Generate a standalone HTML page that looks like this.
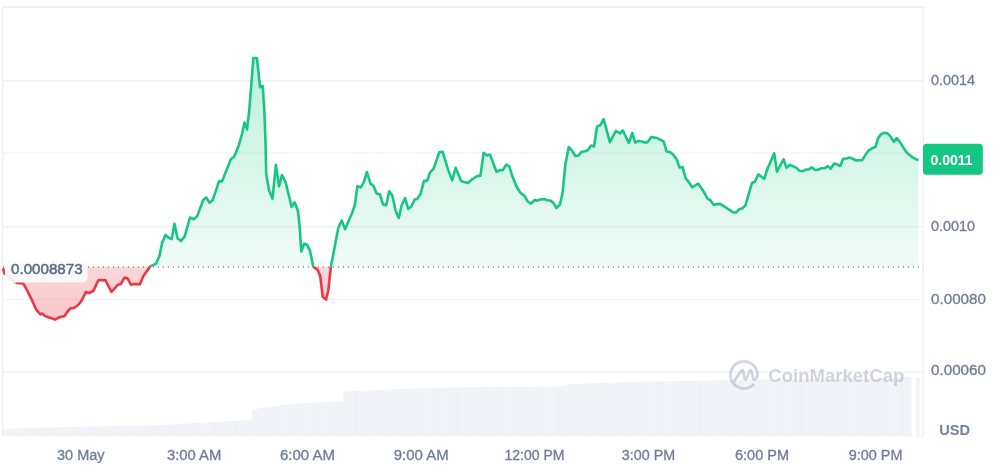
<!DOCTYPE html>
<html><head><meta charset="utf-8"><title>Chart</title>
<style>
html,body{margin:0;padding:0;background:#fff;}
body{width:1001px;height:466px;overflow:hidden;font-family:"Liberation Sans",sans-serif;}
svg{display:block;position:absolute;left:0;top:0;will-change:transform;}
text{font-family:"Liberation Sans",sans-serif;}
</style></head><body>
<svg width="1001" height="466" viewBox="0 0 1001 466">
<defs>
<linearGradient id="gg" x1="0" y1="40" x2="0" y2="266.8" gradientUnits="userSpaceOnUse">
<stop offset="0" stop-color="#16c784" stop-opacity="0.30"/>
<stop offset="1" stop-color="#16c784" stop-opacity="0.06"/>
</linearGradient>
<linearGradient id="rg" x1="0" y1="266.8" x2="0" y2="330" gradientUnits="userSpaceOnUse">
<stop offset="0" stop-color="#ea3943" stop-opacity="0.20"/>
<stop offset="1" stop-color="#ea3943" stop-opacity="0.30"/>
</linearGradient>
<clipPath id="up"><rect x="0" y="0" width="1001" height="266.8"/></clipPath>
<clipPath id="dn"><rect x="0" y="266.8" width="1001" height="200"/></clipPath>
</defs>
<rect width="1001" height="466" fill="#fff"/>
<!-- grid -->
<g shape-rendering="crispEdges">
<rect x="3" y="80" width="920" height="1" fill="#f2f2f2"/><rect x="3" y="81" width="920" height="1" fill="#f8f8f8"/>
<rect x="3" y="152" width="920" height="1" fill="#f7f8fa"/><line x1="3" x2="923" y1="153.5" y2="153.5" stroke="#eff1f5" stroke-width="1" stroke-dasharray="1 1"/>
<rect x="3" y="226" width="920" height="1" fill="#f3f3f3"/><rect x="3" y="227" width="920" height="1" fill="#f8f8f7"/>
<rect x="3" y="298.5" width="920" height="1.5" fill="#f3f3f3"/>
<rect x="3" y="371" width="920" height="1" fill="#f3f3f3"/><line x1="3" x2="923" y1="372.5" y2="372.5" stroke="#f5f5f5" stroke-width="1" stroke-dasharray="1 1"/>
</g>
<!-- volume -->
<g fill="#f0f2f7">
<rect x="2.60" y="428.8" width="3.03" height="6.8"/><rect x="5.76" y="428.7" width="3.03" height="6.9"/><rect x="8.91" y="428.6" width="3.03" height="7.0"/><rect x="12.07" y="428.5" width="3.03" height="7.1"/><rect x="15.22" y="428.4" width="3.03" height="7.2"/><rect x="18.38" y="428.3" width="3.03" height="7.3"/><rect x="21.54" y="428.1" width="3.03" height="7.5"/><rect x="24.69" y="428.0" width="3.03" height="7.6"/><rect x="27.85" y="427.9" width="3.03" height="7.7"/><rect x="31.00" y="427.8" width="3.03" height="7.8"/><rect x="34.16" y="427.7" width="3.03" height="7.9"/><rect x="37.32" y="427.6" width="3.03" height="8.0"/><rect x="40.47" y="427.6" width="3.03" height="8.0"/><rect x="43.63" y="427.5" width="3.03" height="8.1"/><rect x="46.78" y="427.4" width="3.03" height="8.2"/><rect x="49.94" y="427.4" width="3.03" height="8.2"/><rect x="53.10" y="427.3" width="3.03" height="8.3"/><rect x="56.25" y="427.2" width="3.03" height="8.4"/><rect x="59.41" y="427.1" width="3.03" height="8.5"/><rect x="62.56" y="427.1" width="3.03" height="8.5"/><rect x="65.72" y="427.0" width="3.03" height="8.6"/><rect x="68.88" y="426.9" width="3.03" height="8.7"/><rect x="72.03" y="426.9" width="3.03" height="8.7"/><rect x="75.19" y="426.8" width="3.03" height="8.8"/><rect x="78.34" y="426.7" width="3.03" height="8.9"/><rect x="81.50" y="426.7" width="3.03" height="8.9"/><rect x="84.66" y="426.6" width="3.03" height="9.0"/><rect x="87.81" y="426.5" width="3.03" height="9.1"/><rect x="90.97" y="426.5" width="3.03" height="9.1"/><rect x="94.12" y="426.4" width="3.03" height="9.2"/><rect x="97.28" y="426.3" width="3.03" height="9.3"/><rect x="100.44" y="426.3" width="3.03" height="9.3"/><rect x="103.59" y="426.2" width="3.03" height="9.4"/><rect x="106.75" y="426.1" width="3.03" height="9.5"/><rect x="109.90" y="426.1" width="3.03" height="9.5"/><rect x="113.06" y="426.0" width="3.03" height="9.6"/><rect x="116.22" y="426.0" width="3.03" height="9.6"/><rect x="119.37" y="425.9" width="3.03" height="9.7"/><rect x="122.53" y="425.9" width="3.03" height="9.7"/><rect x="125.68" y="425.8" width="3.03" height="9.8"/><rect x="128.84" y="425.7" width="3.03" height="9.9"/><rect x="132.00" y="425.7" width="3.03" height="9.9"/><rect x="135.15" y="425.6" width="3.03" height="10.0"/><rect x="138.31" y="425.6" width="3.03" height="10.0"/><rect x="141.46" y="425.5" width="3.03" height="10.1"/><rect x="144.62" y="425.5" width="3.03" height="10.1"/><rect x="147.78" y="425.4" width="3.03" height="10.2"/><rect x="150.93" y="425.3" width="3.03" height="10.3"/><rect x="154.09" y="425.3" width="3.03" height="10.3"/><rect x="157.24" y="425.2" width="3.03" height="10.4"/><rect x="160.40" y="425.1" width="3.03" height="10.5"/><rect x="163.56" y="424.9" width="3.03" height="10.7"/><rect x="166.71" y="424.7" width="3.03" height="10.9"/><rect x="169.87" y="424.5" width="3.03" height="11.1"/><rect x="173.02" y="424.3" width="3.03" height="11.3"/><rect x="176.18" y="424.1" width="3.03" height="11.5"/><rect x="179.34" y="423.9" width="3.03" height="11.7"/><rect x="182.49" y="423.8" width="3.03" height="11.8"/><rect x="185.65" y="423.6" width="3.03" height="12.0"/><rect x="188.80" y="423.4" width="3.03" height="12.2"/><rect x="191.96" y="423.2" width="3.03" height="12.4"/><rect x="195.12" y="423.0" width="3.03" height="12.6"/><rect x="198.27" y="422.8" width="3.03" height="12.8"/><rect x="201.43" y="422.6" width="3.03" height="13.0"/><rect x="204.58" y="422.5" width="3.03" height="13.1"/><rect x="207.74" y="422.3" width="3.03" height="13.3"/><rect x="210.90" y="422.1" width="3.03" height="13.5"/><rect x="214.05" y="421.9" width="3.03" height="13.7"/><rect x="217.21" y="421.8" width="3.03" height="13.8"/><rect x="220.36" y="421.6" width="3.03" height="14.0"/><rect x="223.52" y="421.4" width="3.03" height="14.2"/><rect x="226.68" y="421.2" width="3.03" height="14.4"/><rect x="229.83" y="421.1" width="3.03" height="14.5"/><rect x="232.99" y="420.9" width="3.03" height="14.7"/><rect x="236.14" y="420.7" width="3.03" height="14.9"/><rect x="239.30" y="420.5" width="3.03" height="15.1"/><rect x="242.46" y="420.4" width="3.03" height="15.2"/><rect x="245.61" y="419.9" width="3.03" height="15.7"/><rect x="248.77" y="419.3" width="3.03" height="16.3"/><rect x="251.92" y="410.1" width="3.03" height="25.5"/><rect x="255.08" y="409.1" width="3.03" height="26.5"/><rect x="258.24" y="408.2" width="3.03" height="27.4"/><rect x="261.39" y="407.4" width="3.03" height="28.2"/><rect x="264.55" y="407.0" width="3.03" height="28.6"/><rect x="267.70" y="406.6" width="3.03" height="29.0"/><rect x="270.86" y="406.2" width="3.03" height="29.4"/><rect x="274.02" y="405.8" width="3.03" height="29.8"/><rect x="277.17" y="405.5" width="3.03" height="30.1"/><rect x="280.33" y="405.1" width="3.03" height="30.5"/><rect x="283.48" y="404.9" width="3.03" height="30.7"/><rect x="286.64" y="404.6" width="3.03" height="31.0"/><rect x="289.80" y="404.3" width="3.03" height="31.3"/><rect x="292.95" y="404.0" width="3.03" height="31.6"/><rect x="296.11" y="403.7" width="3.03" height="31.9"/><rect x="299.26" y="403.5" width="3.03" height="32.1"/><rect x="302.42" y="403.3" width="3.03" height="32.3"/><rect x="305.58" y="403.1" width="3.03" height="32.5"/><rect x="308.73" y="402.9" width="3.03" height="32.7"/><rect x="311.89" y="402.8" width="3.03" height="32.8"/><rect x="315.04" y="402.6" width="3.03" height="33.0"/><rect x="318.20" y="402.4" width="3.03" height="33.2"/><rect x="321.36" y="402.2" width="3.03" height="33.4"/><rect x="324.51" y="402.1" width="3.03" height="33.5"/><rect x="327.67" y="401.9" width="3.03" height="33.7"/><rect x="330.82" y="401.7" width="3.03" height="33.9"/><rect x="333.98" y="401.6" width="3.03" height="34.0"/><rect x="337.14" y="401.4" width="3.03" height="34.2"/><rect x="340.29" y="401.2" width="3.03" height="34.4"/><rect x="343.45" y="391.6" width="3.03" height="44.0"/><rect x="346.60" y="391.5" width="3.03" height="44.1"/><rect x="349.76" y="391.3" width="3.03" height="44.3"/><rect x="352.92" y="391.1" width="3.03" height="44.5"/><rect x="356.07" y="391.0" width="3.03" height="44.6"/><rect x="359.23" y="390.8" width="3.03" height="44.8"/><rect x="362.38" y="390.6" width="3.03" height="45.0"/><rect x="365.54" y="390.5" width="3.03" height="45.1"/><rect x="368.70" y="390.3" width="3.03" height="45.3"/><rect x="371.85" y="390.2" width="3.03" height="45.4"/><rect x="375.01" y="390.0" width="3.03" height="45.6"/><rect x="378.16" y="389.8" width="3.03" height="45.8"/><rect x="381.32" y="389.7" width="3.03" height="45.9"/><rect x="384.48" y="389.5" width="3.03" height="46.1"/><rect x="387.63" y="389.3" width="3.03" height="46.3"/><rect x="390.79" y="389.2" width="3.03" height="46.4"/><rect x="393.94" y="389.1" width="3.03" height="46.5"/><rect x="397.10" y="389.0" width="3.03" height="46.6"/><rect x="400.26" y="388.9" width="3.03" height="46.7"/><rect x="403.41" y="388.8" width="3.03" height="46.8"/><rect x="406.57" y="388.7" width="3.03" height="46.9"/><rect x="409.72" y="388.6" width="3.03" height="47.0"/><rect x="412.88" y="388.5" width="3.03" height="47.1"/><rect x="416.04" y="388.4" width="3.03" height="47.2"/><rect x="419.19" y="388.3" width="3.03" height="47.3"/><rect x="422.35" y="388.2" width="3.03" height="47.4"/><rect x="425.50" y="388.1" width="3.03" height="47.5"/><rect x="428.66" y="388.0" width="3.03" height="47.6"/><rect x="431.82" y="387.9" width="3.03" height="47.7"/><rect x="434.97" y="387.9" width="3.03" height="47.7"/><rect x="438.13" y="387.8" width="3.03" height="47.8"/><rect x="441.28" y="387.7" width="3.03" height="47.9"/><rect x="444.44" y="387.7" width="3.03" height="47.9"/><rect x="447.60" y="387.6" width="3.03" height="48.0"/><rect x="450.75" y="387.6" width="3.03" height="48.0"/><rect x="453.91" y="387.5" width="3.03" height="48.1"/><rect x="457.06" y="387.4" width="3.03" height="48.2"/><rect x="460.22" y="387.4" width="3.03" height="48.2"/><rect x="463.38" y="387.3" width="3.03" height="48.3"/><rect x="466.53" y="387.2" width="3.03" height="48.4"/><rect x="469.69" y="387.2" width="3.03" height="48.4"/><rect x="472.84" y="387.1" width="3.03" height="48.5"/><rect x="476.00" y="387.0" width="3.03" height="48.6"/><rect x="479.16" y="387.0" width="3.03" height="48.6"/><rect x="482.31" y="387.0" width="3.03" height="48.6"/><rect x="485.47" y="387.0" width="3.03" height="48.6"/><rect x="488.62" y="387.0" width="3.03" height="48.6"/><rect x="491.78" y="386.9" width="3.03" height="48.7"/><rect x="494.94" y="386.9" width="3.03" height="48.7"/><rect x="498.09" y="386.9" width="3.03" height="48.7"/><rect x="501.25" y="386.9" width="3.03" height="48.7"/><rect x="504.40" y="386.9" width="3.03" height="48.7"/><rect x="507.56" y="386.9" width="3.03" height="48.7"/><rect x="510.72" y="386.8" width="3.03" height="48.8"/><rect x="513.87" y="386.8" width="3.03" height="48.8"/><rect x="517.03" y="386.8" width="3.03" height="48.8"/><rect x="520.18" y="386.8" width="3.03" height="48.8"/><rect x="523.34" y="386.8" width="3.03" height="48.8"/><rect x="526.50" y="386.8" width="3.03" height="48.8"/><rect x="529.65" y="386.8" width="3.03" height="48.8"/><rect x="532.81" y="386.7" width="3.03" height="48.9"/><rect x="535.96" y="386.7" width="3.03" height="48.9"/><rect x="539.12" y="386.7" width="3.03" height="48.9"/><rect x="542.28" y="386.7" width="3.03" height="48.9"/><rect x="545.43" y="386.7" width="3.03" height="48.9"/><rect x="548.59" y="386.7" width="3.03" height="48.9"/><rect x="551.74" y="386.6" width="3.03" height="49.0"/><rect x="554.90" y="386.6" width="3.03" height="49.0"/><rect x="558.06" y="386.6" width="3.03" height="49.0"/><rect x="561.21" y="386.3" width="3.03" height="49.3"/><rect x="564.37" y="385.1" width="3.03" height="50.5"/><rect x="567.52" y="384.3" width="3.03" height="51.3"/><rect x="570.68" y="384.1" width="3.03" height="51.5"/><rect x="573.84" y="384.0" width="3.03" height="51.6"/><rect x="576.99" y="383.9" width="3.03" height="51.7"/><rect x="580.15" y="383.7" width="3.03" height="51.9"/><rect x="583.30" y="383.6" width="3.03" height="52.0"/><rect x="586.46" y="383.5" width="3.03" height="52.1"/><rect x="589.62" y="383.4" width="3.03" height="52.2"/><rect x="592.77" y="383.2" width="3.03" height="52.4"/><rect x="595.93" y="383.1" width="3.03" height="52.5"/><rect x="599.08" y="383.0" width="3.03" height="52.6"/><rect x="602.24" y="382.9" width="3.03" height="52.7"/><rect x="605.40" y="382.8" width="3.03" height="52.8"/><rect x="608.55" y="382.6" width="3.03" height="53.0"/><rect x="611.71" y="382.5" width="3.03" height="53.1"/><rect x="614.86" y="382.4" width="3.03" height="53.2"/><rect x="618.02" y="382.3" width="3.03" height="53.3"/><rect x="621.18" y="382.2" width="3.03" height="53.4"/><rect x="624.33" y="382.1" width="3.03" height="53.5"/><rect x="627.49" y="382.0" width="3.03" height="53.6"/><rect x="630.64" y="381.9" width="3.03" height="53.7"/><rect x="633.80" y="381.8" width="3.03" height="53.8"/><rect x="636.96" y="381.7" width="3.03" height="53.9"/><rect x="640.11" y="381.7" width="3.03" height="53.9"/><rect x="643.27" y="381.6" width="3.03" height="54.0"/><rect x="646.42" y="381.5" width="3.03" height="54.1"/><rect x="649.58" y="381.5" width="3.03" height="54.1"/><rect x="652.74" y="381.4" width="3.03" height="54.2"/><rect x="655.89" y="381.4" width="3.03" height="54.2"/><rect x="659.05" y="381.3" width="3.03" height="54.3"/><rect x="662.20" y="381.3" width="3.03" height="54.3"/><rect x="665.36" y="381.2" width="3.03" height="54.4"/><rect x="668.52" y="381.1" width="3.03" height="54.5"/><rect x="671.67" y="381.1" width="3.03" height="54.5"/><rect x="674.83" y="381.0" width="3.03" height="54.6"/><rect x="677.98" y="381.0" width="3.03" height="54.6"/><rect x="681.14" y="380.9" width="3.03" height="54.7"/><rect x="684.30" y="380.9" width="3.03" height="54.7"/><rect x="687.45" y="380.8" width="3.03" height="54.8"/><rect x="690.61" y="380.7" width="3.03" height="54.9"/><rect x="693.76" y="380.7" width="3.03" height="54.9"/><rect x="696.92" y="380.6" width="3.03" height="55.0"/><rect x="700.08" y="380.6" width="3.03" height="55.0"/><rect x="703.23" y="380.5" width="3.03" height="55.1"/><rect x="706.39" y="380.5" width="3.03" height="55.1"/><rect x="709.54" y="380.4" width="3.03" height="55.2"/><rect x="712.70" y="380.3" width="3.03" height="55.3"/><rect x="715.86" y="380.3" width="3.03" height="55.3"/><rect x="719.01" y="380.2" width="3.03" height="55.4"/><rect x="722.17" y="380.2" width="3.03" height="55.4"/><rect x="725.32" y="380.1" width="3.03" height="55.5"/><rect x="728.48" y="380.1" width="3.03" height="55.5"/><rect x="731.64" y="380.0" width="3.03" height="55.6"/><rect x="734.79" y="379.9" width="3.03" height="55.7"/><rect x="737.95" y="379.9" width="3.03" height="55.7"/><rect x="741.10" y="379.8" width="3.03" height="55.8"/><rect x="744.26" y="379.8" width="3.03" height="55.8"/><rect x="747.42" y="379.7" width="3.03" height="55.9"/><rect x="750.57" y="379.7" width="3.03" height="55.9"/><rect x="753.73" y="379.7" width="3.03" height="55.9"/><rect x="756.88" y="379.6" width="3.03" height="56.0"/><rect x="760.04" y="379.6" width="3.03" height="56.0"/><rect x="763.20" y="379.6" width="3.03" height="56.0"/><rect x="766.35" y="379.5" width="3.03" height="56.1"/><rect x="769.51" y="379.5" width="3.03" height="56.1"/><rect x="772.66" y="379.5" width="3.03" height="56.1"/><rect x="775.82" y="379.4" width="3.03" height="56.2"/><rect x="778.98" y="379.4" width="3.03" height="56.2"/><rect x="782.13" y="379.4" width="3.03" height="56.2"/><rect x="785.29" y="379.3" width="3.03" height="56.3"/><rect x="788.44" y="379.3" width="3.03" height="56.3"/><rect x="791.60" y="379.3" width="3.03" height="56.3"/><rect x="794.76" y="379.2" width="3.03" height="56.4"/><rect x="797.91" y="379.2" width="3.03" height="56.4"/><rect x="801.07" y="379.2" width="3.03" height="56.4"/><rect x="804.22" y="379.2" width="3.03" height="56.4"/><rect x="807.38" y="379.1" width="3.03" height="56.5"/><rect x="810.54" y="379.1" width="3.03" height="56.5"/><rect x="813.69" y="379.1" width="3.03" height="56.5"/><rect x="816.85" y="379.1" width="3.03" height="56.5"/><rect x="820.00" y="379.0" width="3.03" height="56.6"/><rect x="823.16" y="379.0" width="3.03" height="56.6"/><rect x="826.32" y="379.0" width="3.03" height="56.6"/><rect x="829.47" y="379.0" width="3.03" height="56.6"/><rect x="832.63" y="378.9" width="3.03" height="56.7"/><rect x="835.78" y="378.9" width="3.03" height="56.7"/><rect x="838.94" y="378.9" width="3.03" height="56.7"/><rect x="842.10" y="378.9" width="3.03" height="56.7"/><rect x="845.25" y="378.8" width="3.03" height="56.8"/><rect x="848.41" y="378.8" width="3.03" height="56.8"/><rect x="851.56" y="378.8" width="3.03" height="56.8"/><rect x="854.72" y="378.8" width="3.03" height="56.8"/><rect x="857.88" y="378.8" width="3.03" height="56.8"/><rect x="861.03" y="378.7" width="3.03" height="56.9"/><rect x="864.19" y="378.7" width="3.03" height="56.9"/><rect x="867.34" y="378.7" width="3.03" height="56.9"/><rect x="870.50" y="378.7" width="3.03" height="56.9"/><rect x="873.66" y="378.6" width="3.03" height="57.0"/><rect x="876.81" y="378.6" width="3.03" height="57.0"/><rect x="879.97" y="378.5" width="3.03" height="57.1"/><rect x="883.12" y="378.4" width="3.03" height="57.2"/><rect x="886.28" y="378.3" width="3.03" height="57.3"/><rect x="889.44" y="378.2" width="3.03" height="57.4"/><rect x="892.59" y="378.1" width="3.03" height="57.5"/><rect x="895.75" y="377.9" width="3.03" height="57.7"/><rect x="898.90" y="377.2" width="3.03" height="58.4"/><rect x="902.06" y="376.8" width="3.03" height="58.8"/><rect x="905.22" y="376.8" width="3.03" height="58.8"/><rect x="908.37" y="376.8" width="3.03" height="58.8"/><rect x="916.2" y="377" width="3.5" height="58.6"/>
</g>
<!-- frame -->
<rect x="2" y="6.2" width="922" height="1.5" fill="#ececec"/>
<rect x="2" y="6.2" width="1.2" height="430" fill="#efefef"/>
<rect x="922.6" y="6.2" width="1.3" height="430" fill="#efefef"/>
<rect x="2" y="435.6" width="922" height="1" fill="#f3f3f3"/>
<!-- areas -->
<path d="M3.0,266.8 L3.0,268.3 L4.3,273.2 L7.5,275.5 L10.5,278.5 L13.5,281.0 L16.3,283.0 L23.2,283.5 L27.5,291.2 L31.8,299.8 L36.0,309.3 L40.4,314.4 L42.0,313.6 L45.5,316.2 L50.7,317.9 L55.0,319.6 L60.1,317.0 L64.4,316.2 L67.9,311.0 L70.4,308.4 L73.9,308.0 L78.2,305.0 L81.6,300.7 L85.9,292.1 L89.3,293.0 L93.5,290.6 L98.5,280.0 L105.5,280.4 L111.5,292.0 L117.5,285.1 L120.9,283.9 L124.4,277.9 L127.5,278.4 L130.9,284.7 L133.8,283.9 L139.8,284.4 L143.3,276.2 L150.1,266.4 L156.2,263.6 L159.6,255.5 L162.2,242.6 L165.6,234.9 L168.2,237.5 L171.6,239.2 L174.5,223.7 L177.6,238.4 L181.1,240.9 L184.5,236.6 L190.0,217.5 L193.7,219.2 L197.2,216.1 L203.2,200.1 L206.3,197.6 L209.5,202.7 L212.6,200.3 L219.1,181.2 L222.1,181.4 L230.8,159.2 L234.3,156.5 L238.9,144.9 L242.3,132.9 L244.5,122.6 L247.0,129.5 L249.2,111.0 L253.4,58.0 L256.9,58.0 L260.1,87.3 L262.7,86.0 L264.3,110.0 L265.5,141.5 L266.2,174.3 L269.1,190.6 L272.5,198.7 L275.9,164.9 L279.0,186.4 L282.0,175.2 L285.6,182.1 L291.6,207.0 L294.6,202.3 L297.9,210.8 L299.6,225.8 L301.3,251.5 L304.2,243.8 L307.0,244.6 L309.9,250.6 L313.3,266.6 L317.5,269.6 L320.2,276.0 L322.8,297.0 L326.0,299.6 L328.3,290.2 L330.9,266.8 L338.2,228.3 L341.7,220.6 L345.1,229.2 L351.9,213.6 L354.8,205.0 L357.4,186.1 L360.8,187.5 L363.9,181.8 L367.0,172.0 L370.4,183.5 L373.4,185.7 L376.8,193.8 L379.9,194.3 L383.1,204.6 L386.2,205.3 L389.2,191.2 L392.3,195.5 L395.7,211.0 L398.8,217.9 L401.7,205.0 L405.1,198.1 L408.2,208.9 L411.2,206.7 L414.6,199.5 L417.2,199.0 L420.6,193.8 L424.0,180.9 L427.1,180.9 L430.1,172.3 L433.5,168.9 L439.4,152.0 L442.7,151.8 L447.9,169.2 L452.2,180.4 L455.6,167.8 L461.1,180.9 L464.2,182.1 L468.0,183.0 L471.9,179.5 L477.1,176.1 L480.5,175.6 L483.6,152.9 L487.1,155.5 L490.0,154.6 L496.5,171.8 L499.9,170.1 L502.9,170.1 L506.3,164.6 L509.2,166.1 L512.3,176.1 L515.8,185.0 L519.2,191.2 L521.8,194.1 L524.3,195.3 L527.7,201.5 L531.1,203.7 L534.7,200.0 L537.0,200.8 L540.5,199.4 L543.9,199.1 L547.3,200.3 L550.4,200.6 L553.4,202.9 L556.4,208.0 L559.9,204.6 L562.5,193.4 L565.4,164.2 L568.8,147.0 L572.3,151.3 L575.3,156.0 L578.3,155.6 L581.7,151.7 L585.1,151.3 L588.0,150.0 L591.1,145.6 L594.0,146.5 L597.0,126.6 L600.5,124.9 L603.6,119.2 L609.9,142.1 L615.9,130.9 L619.9,133.5 L622.8,130.4 L628.8,143.0 L632.3,133.0 L635.2,142.6 L638.6,140.9 L641.7,141.6 L644.8,142.6 L647.7,142.1 L651.2,136.9 L654.2,137.5 L657.2,138.1 L660.6,139.9 L663.7,141.6 L666.6,151.5 L670.1,152.1 L673.5,155.0 L676.5,159.0 L679.5,167.5 L682.5,166.9 L685.5,178.0 L688.7,182.1 L692.2,187.3 L698.2,183.5 L704.2,192.4 L707.3,198.4 L710.2,200.1 L713.7,204.9 L717.1,204.1 L720.0,203.9 L726.5,207.9 L733.4,212.5 L736.0,212.5 L739.4,209.2 L742.4,208.2 L745.4,205.6 L748.9,193.3 L752.0,183.0 L754.9,181.8 L758.3,174.4 L764.3,178.7 L767.7,168.0 L771.1,160.6 L774.2,153.3 L777.0,171.7 L783.6,159.3 L786.5,167.9 L789.9,164.8 L793.0,166.2 L796.4,167.9 L799.4,170.8 L802.8,171.2 L805.7,169.6 L808.8,169.5 L811.7,167.4 L815.2,170.0 L818.3,169.6 L821.4,168.3 L824.6,168.3 L827.7,166.2 L830.8,168.6 L834.2,163.6 L837.2,164.5 L840.3,166.0 L843.2,158.8 L846.6,158.5 L849.5,157.6 L853.2,159.0 L856.5,160.5 L859.5,160.3 L862.3,160.1 L865.3,155.1 L868.6,150.5 L872.0,148.3 L875.4,147.1 L878.0,138.5 L880.9,134.2 L884.4,132.8 L887.5,133.4 L890.4,136.3 L893.8,141.9 L896.7,138.0 L899.8,141.9 L903.3,147.4 L906.2,151.9 L909.3,154.8 L912.7,157.4 L918.4,160.3 L918.4,266.8 Z" fill="url(#gg)" clip-path="url(#up)"/>
<path d="M3.0,266.8 L3.0,268.3 L4.3,273.2 L7.5,275.5 L10.5,278.5 L13.5,281.0 L16.3,283.0 L23.2,283.5 L27.5,291.2 L31.8,299.8 L36.0,309.3 L40.4,314.4 L42.0,313.6 L45.5,316.2 L50.7,317.9 L55.0,319.6 L60.1,317.0 L64.4,316.2 L67.9,311.0 L70.4,308.4 L73.9,308.0 L78.2,305.0 L81.6,300.7 L85.9,292.1 L89.3,293.0 L93.5,290.6 L98.5,280.0 L105.5,280.4 L111.5,292.0 L117.5,285.1 L120.9,283.9 L124.4,277.9 L127.5,278.4 L130.9,284.7 L133.8,283.9 L139.8,284.4 L143.3,276.2 L150.1,266.4 L156.2,263.6 L159.6,255.5 L162.2,242.6 L165.6,234.9 L168.2,237.5 L171.6,239.2 L174.5,223.7 L177.6,238.4 L181.1,240.9 L184.5,236.6 L190.0,217.5 L193.7,219.2 L197.2,216.1 L203.2,200.1 L206.3,197.6 L209.5,202.7 L212.6,200.3 L219.1,181.2 L222.1,181.4 L230.8,159.2 L234.3,156.5 L238.9,144.9 L242.3,132.9 L244.5,122.6 L247.0,129.5 L249.2,111.0 L253.4,58.0 L256.9,58.0 L260.1,87.3 L262.7,86.0 L264.3,110.0 L265.5,141.5 L266.2,174.3 L269.1,190.6 L272.5,198.7 L275.9,164.9 L279.0,186.4 L282.0,175.2 L285.6,182.1 L291.6,207.0 L294.6,202.3 L297.9,210.8 L299.6,225.8 L301.3,251.5 L304.2,243.8 L307.0,244.6 L309.9,250.6 L313.3,266.6 L317.5,269.6 L320.2,276.0 L322.8,297.0 L326.0,299.6 L328.3,290.2 L330.9,266.8 L338.2,228.3 L341.7,220.6 L345.1,229.2 L351.9,213.6 L354.8,205.0 L357.4,186.1 L360.8,187.5 L363.9,181.8 L367.0,172.0 L370.4,183.5 L373.4,185.7 L376.8,193.8 L379.9,194.3 L383.1,204.6 L386.2,205.3 L389.2,191.2 L392.3,195.5 L395.7,211.0 L398.8,217.9 L401.7,205.0 L405.1,198.1 L408.2,208.9 L411.2,206.7 L414.6,199.5 L417.2,199.0 L420.6,193.8 L424.0,180.9 L427.1,180.9 L430.1,172.3 L433.5,168.9 L439.4,152.0 L442.7,151.8 L447.9,169.2 L452.2,180.4 L455.6,167.8 L461.1,180.9 L464.2,182.1 L468.0,183.0 L471.9,179.5 L477.1,176.1 L480.5,175.6 L483.6,152.9 L487.1,155.5 L490.0,154.6 L496.5,171.8 L499.9,170.1 L502.9,170.1 L506.3,164.6 L509.2,166.1 L512.3,176.1 L515.8,185.0 L519.2,191.2 L521.8,194.1 L524.3,195.3 L527.7,201.5 L531.1,203.7 L534.7,200.0 L537.0,200.8 L540.5,199.4 L543.9,199.1 L547.3,200.3 L550.4,200.6 L553.4,202.9 L556.4,208.0 L559.9,204.6 L562.5,193.4 L565.4,164.2 L568.8,147.0 L572.3,151.3 L575.3,156.0 L578.3,155.6 L581.7,151.7 L585.1,151.3 L588.0,150.0 L591.1,145.6 L594.0,146.5 L597.0,126.6 L600.5,124.9 L603.6,119.2 L609.9,142.1 L615.9,130.9 L619.9,133.5 L622.8,130.4 L628.8,143.0 L632.3,133.0 L635.2,142.6 L638.6,140.9 L641.7,141.6 L644.8,142.6 L647.7,142.1 L651.2,136.9 L654.2,137.5 L657.2,138.1 L660.6,139.9 L663.7,141.6 L666.6,151.5 L670.1,152.1 L673.5,155.0 L676.5,159.0 L679.5,167.5 L682.5,166.9 L685.5,178.0 L688.7,182.1 L692.2,187.3 L698.2,183.5 L704.2,192.4 L707.3,198.4 L710.2,200.1 L713.7,204.9 L717.1,204.1 L720.0,203.9 L726.5,207.9 L733.4,212.5 L736.0,212.5 L739.4,209.2 L742.4,208.2 L745.4,205.6 L748.9,193.3 L752.0,183.0 L754.9,181.8 L758.3,174.4 L764.3,178.7 L767.7,168.0 L771.1,160.6 L774.2,153.3 L777.0,171.7 L783.6,159.3 L786.5,167.9 L789.9,164.8 L793.0,166.2 L796.4,167.9 L799.4,170.8 L802.8,171.2 L805.7,169.6 L808.8,169.5 L811.7,167.4 L815.2,170.0 L818.3,169.6 L821.4,168.3 L824.6,168.3 L827.7,166.2 L830.8,168.6 L834.2,163.6 L837.2,164.5 L840.3,166.0 L843.2,158.8 L846.6,158.5 L849.5,157.6 L853.2,159.0 L856.5,160.5 L859.5,160.3 L862.3,160.1 L865.3,155.1 L868.6,150.5 L872.0,148.3 L875.4,147.1 L878.0,138.5 L880.9,134.2 L884.4,132.8 L887.5,133.4 L890.4,136.3 L893.8,141.9 L896.7,138.0 L899.8,141.9 L903.3,147.4 L906.2,151.9 L909.3,154.8 L912.7,157.4 L918.4,160.3 L918.4,266.8 Z" fill="url(#rg)" clip-path="url(#dn)"/>
<!-- baseline dotted -->
<line x1="2.9" x2="923" y1="266.9" y2="266.9" stroke="#85889a" stroke-width="2" stroke-dasharray="1.1 3.9" opacity="0.72"/>
<!-- line -->
<polyline points="3.0,268.3 4.3,273.2 7.5,275.5 10.5,278.5 13.5,281.0 16.3,283.0 23.2,283.5 27.5,291.2 31.8,299.8 36.0,309.3 40.4,314.4 42.0,313.6 45.5,316.2 50.7,317.9 55.0,319.6 60.1,317.0 64.4,316.2 67.9,311.0 70.4,308.4 73.9,308.0 78.2,305.0 81.6,300.7 85.9,292.1 89.3,293.0 93.5,290.6 98.5,280.0 105.5,280.4 111.5,292.0 117.5,285.1 120.9,283.9 124.4,277.9 127.5,278.4 130.9,284.7 133.8,283.9 139.8,284.4 143.3,276.2 150.1,266.4 156.2,263.6 159.6,255.5 162.2,242.6 165.6,234.9 168.2,237.5 171.6,239.2 174.5,223.7 177.6,238.4 181.1,240.9 184.5,236.6 190.0,217.5 193.7,219.2 197.2,216.1 203.2,200.1 206.3,197.6 209.5,202.7 212.6,200.3 219.1,181.2 222.1,181.4 230.8,159.2 234.3,156.5 238.9,144.9 242.3,132.9 244.5,122.6 247.0,129.5 249.2,111.0 253.4,58.0 256.9,58.0 260.1,87.3 262.7,86.0 264.3,110.0 265.5,141.5 266.2,174.3 269.1,190.6 272.5,198.7 275.9,164.9 279.0,186.4 282.0,175.2 285.6,182.1 291.6,207.0 294.6,202.3 297.9,210.8 299.6,225.8 301.3,251.5 304.2,243.8 307.0,244.6 309.9,250.6 313.3,266.6 317.5,269.6 320.2,276.0 322.8,297.0 326.0,299.6 328.3,290.2 330.9,266.8 338.2,228.3 341.7,220.6 345.1,229.2 351.9,213.6 354.8,205.0 357.4,186.1 360.8,187.5 363.9,181.8 367.0,172.0 370.4,183.5 373.4,185.7 376.8,193.8 379.9,194.3 383.1,204.6 386.2,205.3 389.2,191.2 392.3,195.5 395.7,211.0 398.8,217.9 401.7,205.0 405.1,198.1 408.2,208.9 411.2,206.7 414.6,199.5 417.2,199.0 420.6,193.8 424.0,180.9 427.1,180.9 430.1,172.3 433.5,168.9 439.4,152.0 442.7,151.8 447.9,169.2 452.2,180.4 455.6,167.8 461.1,180.9 464.2,182.1 468.0,183.0 471.9,179.5 477.1,176.1 480.5,175.6 483.6,152.9 487.1,155.5 490.0,154.6 496.5,171.8 499.9,170.1 502.9,170.1 506.3,164.6 509.2,166.1 512.3,176.1 515.8,185.0 519.2,191.2 521.8,194.1 524.3,195.3 527.7,201.5 531.1,203.7 534.7,200.0 537.0,200.8 540.5,199.4 543.9,199.1 547.3,200.3 550.4,200.6 553.4,202.9 556.4,208.0 559.9,204.6 562.5,193.4 565.4,164.2 568.8,147.0 572.3,151.3 575.3,156.0 578.3,155.6 581.7,151.7 585.1,151.3 588.0,150.0 591.1,145.6 594.0,146.5 597.0,126.6 600.5,124.9 603.6,119.2 609.9,142.1 615.9,130.9 619.9,133.5 622.8,130.4 628.8,143.0 632.3,133.0 635.2,142.6 638.6,140.9 641.7,141.6 644.8,142.6 647.7,142.1 651.2,136.9 654.2,137.5 657.2,138.1 660.6,139.9 663.7,141.6 666.6,151.5 670.1,152.1 673.5,155.0 676.5,159.0 679.5,167.5 682.5,166.9 685.5,178.0 688.7,182.1 692.2,187.3 698.2,183.5 704.2,192.4 707.3,198.4 710.2,200.1 713.7,204.9 717.1,204.1 720.0,203.9 726.5,207.9 733.4,212.5 736.0,212.5 739.4,209.2 742.4,208.2 745.4,205.6 748.9,193.3 752.0,183.0 754.9,181.8 758.3,174.4 764.3,178.7 767.7,168.0 771.1,160.6 774.2,153.3 777.0,171.7 783.6,159.3 786.5,167.9 789.9,164.8 793.0,166.2 796.4,167.9 799.4,170.8 802.8,171.2 805.7,169.6 808.8,169.5 811.7,167.4 815.2,170.0 818.3,169.6 821.4,168.3 824.6,168.3 827.7,166.2 830.8,168.6 834.2,163.6 837.2,164.5 840.3,166.0 843.2,158.8 846.6,158.5 849.5,157.6 853.2,159.0 856.5,160.5 859.5,160.3 862.3,160.1 865.3,155.1 868.6,150.5 872.0,148.3 875.4,147.1 878.0,138.5 880.9,134.2 884.4,132.8 887.5,133.4 890.4,136.3 893.8,141.9 896.7,138.0 899.8,141.9 903.3,147.4 906.2,151.9 909.3,154.8 912.7,157.4 918.4,160.3" fill="none" stroke="#16c784" stroke-width="2.6" stroke-linejoin="round" stroke-linecap="butt" clip-path="url(#up)"/>
<polyline points="3.0,268.3 4.3,273.2 7.5,275.5 10.5,278.5 13.5,281.0 16.3,283.0 23.2,283.5 27.5,291.2 31.8,299.8 36.0,309.3 40.4,314.4 42.0,313.6 45.5,316.2 50.7,317.9 55.0,319.6 60.1,317.0 64.4,316.2 67.9,311.0 70.4,308.4 73.9,308.0 78.2,305.0 81.6,300.7 85.9,292.1 89.3,293.0 93.5,290.6 98.5,280.0 105.5,280.4 111.5,292.0 117.5,285.1 120.9,283.9 124.4,277.9 127.5,278.4 130.9,284.7 133.8,283.9 139.8,284.4 143.3,276.2 150.1,266.4 156.2,263.6 159.6,255.5 162.2,242.6 165.6,234.9 168.2,237.5 171.6,239.2 174.5,223.7 177.6,238.4 181.1,240.9 184.5,236.6 190.0,217.5 193.7,219.2 197.2,216.1 203.2,200.1 206.3,197.6 209.5,202.7 212.6,200.3 219.1,181.2 222.1,181.4 230.8,159.2 234.3,156.5 238.9,144.9 242.3,132.9 244.5,122.6 247.0,129.5 249.2,111.0 253.4,58.0 256.9,58.0 260.1,87.3 262.7,86.0 264.3,110.0 265.5,141.5 266.2,174.3 269.1,190.6 272.5,198.7 275.9,164.9 279.0,186.4 282.0,175.2 285.6,182.1 291.6,207.0 294.6,202.3 297.9,210.8 299.6,225.8 301.3,251.5 304.2,243.8 307.0,244.6 309.9,250.6 313.3,266.6 317.5,269.6 320.2,276.0 322.8,297.0 326.0,299.6 328.3,290.2 330.9,266.8 338.2,228.3 341.7,220.6 345.1,229.2 351.9,213.6 354.8,205.0 357.4,186.1 360.8,187.5 363.9,181.8 367.0,172.0 370.4,183.5 373.4,185.7 376.8,193.8 379.9,194.3 383.1,204.6 386.2,205.3 389.2,191.2 392.3,195.5 395.7,211.0 398.8,217.9 401.7,205.0 405.1,198.1 408.2,208.9 411.2,206.7 414.6,199.5 417.2,199.0 420.6,193.8 424.0,180.9 427.1,180.9 430.1,172.3 433.5,168.9 439.4,152.0 442.7,151.8 447.9,169.2 452.2,180.4 455.6,167.8 461.1,180.9 464.2,182.1 468.0,183.0 471.9,179.5 477.1,176.1 480.5,175.6 483.6,152.9 487.1,155.5 490.0,154.6 496.5,171.8 499.9,170.1 502.9,170.1 506.3,164.6 509.2,166.1 512.3,176.1 515.8,185.0 519.2,191.2 521.8,194.1 524.3,195.3 527.7,201.5 531.1,203.7 534.7,200.0 537.0,200.8 540.5,199.4 543.9,199.1 547.3,200.3 550.4,200.6 553.4,202.9 556.4,208.0 559.9,204.6 562.5,193.4 565.4,164.2 568.8,147.0 572.3,151.3 575.3,156.0 578.3,155.6 581.7,151.7 585.1,151.3 588.0,150.0 591.1,145.6 594.0,146.5 597.0,126.6 600.5,124.9 603.6,119.2 609.9,142.1 615.9,130.9 619.9,133.5 622.8,130.4 628.8,143.0 632.3,133.0 635.2,142.6 638.6,140.9 641.7,141.6 644.8,142.6 647.7,142.1 651.2,136.9 654.2,137.5 657.2,138.1 660.6,139.9 663.7,141.6 666.6,151.5 670.1,152.1 673.5,155.0 676.5,159.0 679.5,167.5 682.5,166.9 685.5,178.0 688.7,182.1 692.2,187.3 698.2,183.5 704.2,192.4 707.3,198.4 710.2,200.1 713.7,204.9 717.1,204.1 720.0,203.9 726.5,207.9 733.4,212.5 736.0,212.5 739.4,209.2 742.4,208.2 745.4,205.6 748.9,193.3 752.0,183.0 754.9,181.8 758.3,174.4 764.3,178.7 767.7,168.0 771.1,160.6 774.2,153.3 777.0,171.7 783.6,159.3 786.5,167.9 789.9,164.8 793.0,166.2 796.4,167.9 799.4,170.8 802.8,171.2 805.7,169.6 808.8,169.5 811.7,167.4 815.2,170.0 818.3,169.6 821.4,168.3 824.6,168.3 827.7,166.2 830.8,168.6 834.2,163.6 837.2,164.5 840.3,166.0 843.2,158.8 846.6,158.5 849.5,157.6 853.2,159.0 856.5,160.5 859.5,160.3 862.3,160.1 865.3,155.1 868.6,150.5 872.0,148.3 875.4,147.1 878.0,138.5 880.9,134.2 884.4,132.8 887.5,133.4 890.4,136.3 893.8,141.9 896.7,138.0 899.8,141.9 903.3,147.4 906.2,151.9 909.3,154.8 912.7,157.4 918.4,160.3" fill="none" stroke="#ea3943" stroke-width="2.6" stroke-linejoin="round" stroke-linecap="butt" clip-path="url(#dn)"/>
<!-- watermark -->
<g opacity="0.52" fill="none" stroke="#a6b0c3" stroke-width="2.7" stroke-linecap="round" stroke-linejoin="round">
<path d="M757.55,374.9 A13.55,13.55 0 1 0 753.3,384.8"/>
<path d="M734.1,381.3 L741.2,370.8 Q742.6,368.8 743.2,371.3 L744.6,378.5 Q745.3,381 746.6,378.3 L749.9,371 Q751,369 751.6,371.3 L752.8,377.5 Q753.6,381.5 755.8,378.8 Q757.3,377 757.55,374.9"/>
</g>
<text x="768.3" y="381.8" font-size="18.5" font-weight="700" fill="#a6b0c3" opacity="0.52" textLength="136" lengthAdjust="spacingAndGlyphs">CoinMarketCap</text>
<!-- start price label -->
<rect x="5" y="260.5" width="82.6" height="22.1" rx="6" ry="6" fill="#fbfbfb" opacity="0.96"/>
<polyline points="6.5,274.8 10.5,278.5 13.5,281 16,282.6" fill="none" stroke="#ededed" stroke-width="2.6"/>
<text x="11" y="273.7" font-size="14" fill="#5f6c86" stroke="#5f6c86" stroke-width="0.5" textLength="71.6" lengthAdjust="spacingAndGlyphs">0.0008873</text>
<!-- y labels -->
<g font-size="14" fill="#707c97" stroke="#707c97" stroke-width="0.3">
<text x="931" y="85.2" textLength="44" lengthAdjust="spacingAndGlyphs">0.0014</text>
<text x="931" y="231.2" textLength="44" lengthAdjust="spacingAndGlyphs">0.0010</text>
<text x="931" y="304.4" textLength="55" lengthAdjust="spacingAndGlyphs">0.00080</text>
<text x="931" y="375.4" textLength="55" lengthAdjust="spacingAndGlyphs">0.00060</text>
</g>
<!-- badge -->
<rect x="923" y="143.7" width="59.8" height="31" rx="3.5" ry="3.5" fill="#16c784"/>
<text x="930.6" y="164.8" font-size="14.5" font-weight="700" fill="#ffffff" textLength="42" lengthAdjust="spacingAndGlyphs">0.0011</text>
<text x="939.3" y="434.6" font-size="14" font-weight="700" fill="#74819c" textLength="30.8" lengthAdjust="spacingAndGlyphs">USD</text>
<!-- x labels -->
<g font-size="14" fill="#707c97" stroke="#707c97" stroke-width="0.3">
<text x="57.0" y="459.6" textLength="47.5" lengthAdjust="spacingAndGlyphs">30 May</text>
<text x="166.9" y="459.6" textLength="54.5" lengthAdjust="spacingAndGlyphs">3:00 AM</text>
<text x="280.0" y="459.6" textLength="55" lengthAdjust="spacingAndGlyphs">6:00 AM</text>
<text x="393.7" y="459.6" textLength="55" lengthAdjust="spacingAndGlyphs">9:00 AM</text>
<text x="504.5" y="459.6" textLength="60" lengthAdjust="spacingAndGlyphs">12:00 PM</text>
<text x="621.8" y="459.6" textLength="53.3" lengthAdjust="spacingAndGlyphs">3:00 PM</text>
<text x="735.0" y="459.6" textLength="54" lengthAdjust="spacingAndGlyphs">6:00 PM</text>
<text x="848.7" y="459.6" textLength="53.8" lengthAdjust="spacingAndGlyphs">9:00 PM</text>
</g>
</svg>
</body></html>
